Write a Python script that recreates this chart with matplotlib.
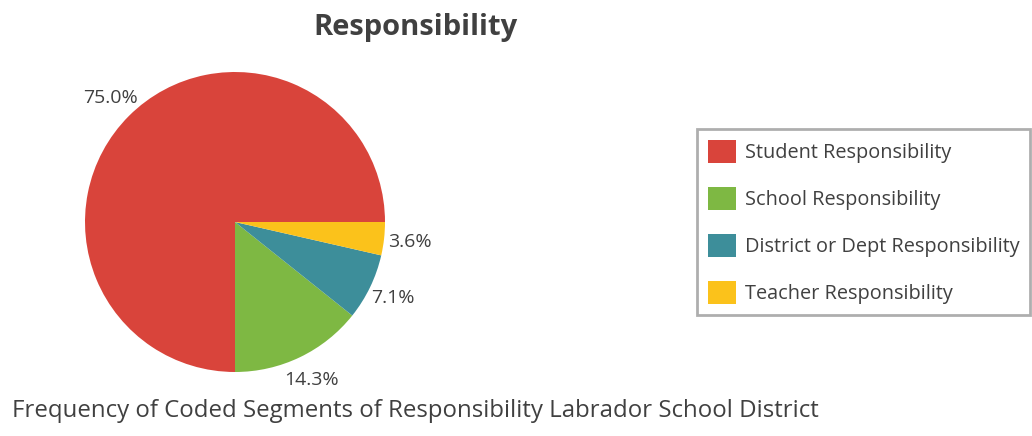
import matplotlib.pyplot as plt

plt.rcParams['font.family'] = ['Open Sans', 'DejaVu Sans']

# coded segment counts per responsibility category
categories = ['Student Responsibility', 'School Responsibility',
              'District or Dept Responsibility', 'Teacher Responsibility']
counts = [21, 4, 2, 1]
colors = ['#D9443B', '#7EB843', '#3D8E9A', '#FBC21B']

text_color = '#404040'

fig = plt.figure(figsize=(10.32, 4.36), dpi=100)
ax = fig.add_axes([85 / 1032, 64 / 436, 300 / 1032, 300 / 436])

wedges, _, pct_texts = ax.pie(counts, colors=colors, startangle=0,
                              autopct='%1.1f%%', pctdistance=1.17,
                              wedgeprops={'linewidth': 0},
                              textprops={'fontsize': 14, 'color': text_color})
ax.set_xlim(-1, 1)
ax.set_ylim(-1, 1)
ax.set_aspect('equal')

fig.text(416 / 1032, 1 - 27 / 436, 'Responsibility', ha='center', va='center',
         fontsize=21, fontweight='bold', color=text_color)
fig.text(12 / 1032, 1 - 411 / 436,
         'Frequency of Coded Segments of Responsibility Labrador School District',
         ha='left', va='center', fontsize=17.3, color=text_color)

leg = fig.legend(wedges, categories, loc='center left',
                 bbox_to_anchor=(697 / 1032, 1 - 222 / 436),
                 fontsize=14.3, handlelength=1.4, handleheight=1.4,
                 labelspacing=1.2, handletextpad=0.45, borderpad=0.55,
                 borderaxespad=0, fancybox=False, frameon=True,
                 labelcolor=text_color)
leg.get_frame().set_edgecolor('#9A9A9A')
leg.get_frame().set_linewidth(2)

fig.savefig('out.png', dpi=100)
